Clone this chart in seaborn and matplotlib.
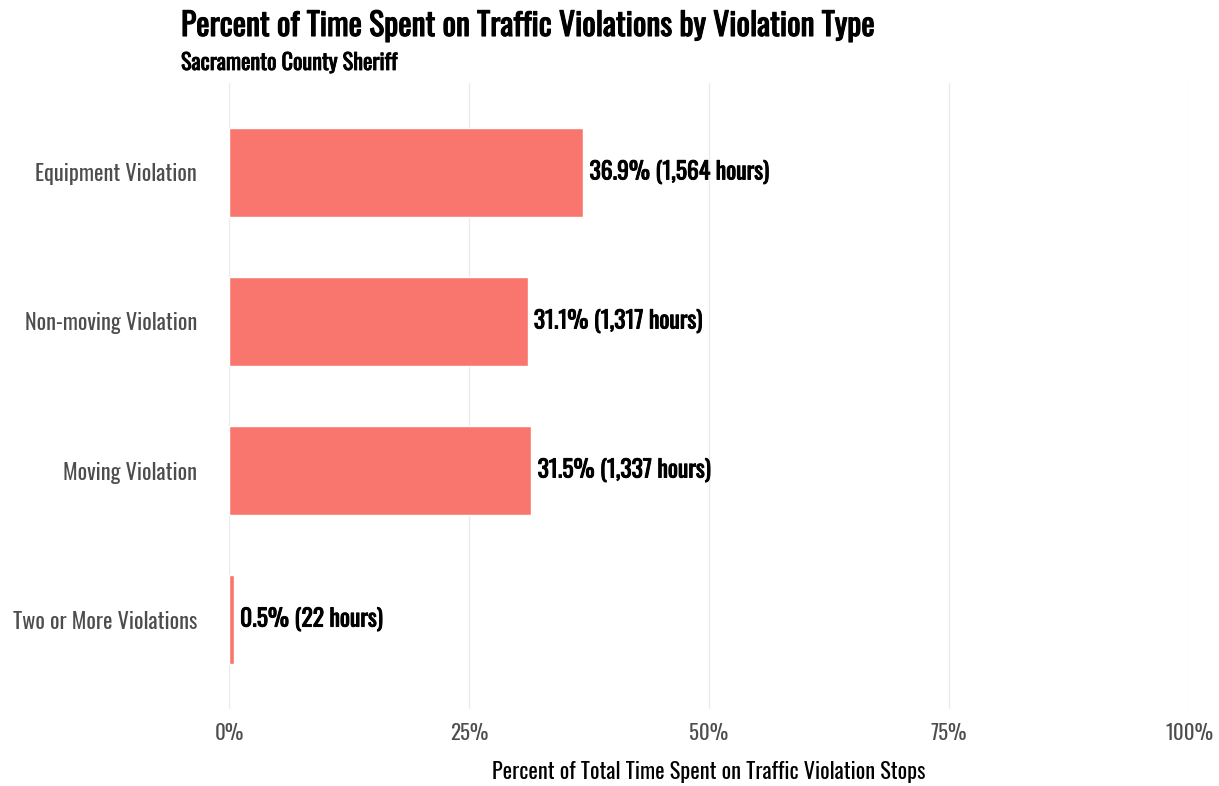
import matplotlib
matplotlib.use("Agg")
import matplotlib.pyplot as plt
import matplotlib.patheffects as pe
import seaborn as sns
import pandas as pd
from matplotlib import font_manager as fm

categories = ["Equipment Violation", "Non-moving Violation", "Moving Violation", "Two or More Violations"]
percents = [36.9, 31.1, 31.5, 0.5]
hours = [1564, 1317, 1337, 22]
xticks = [0, 25, 50, 75, 100]
xtick_labels = ["0%", "25%", "50%", "75%", "100%"]

names = {f.name for f in fm.fontManager.ttflist}
fam = "DejaVu Sans"
for cand in ["Oswald", "Roboto Condensed", "Liberation Sans Narrow"]:
    if cand in names:
        fam = cand
        break

sns.set_theme(style="whitegrid")
plt.rcParams["font.family"] = [fam, "DejaVu Sans"]
if fam == "DejaVu Sans":
    plt.rcParams["font.stretch"] = "condensed"

bold_fx = lambda w: [pe.withStroke(linewidth=w, foreground="black")]

df = pd.DataFrame({"cat": categories, "pct": percents, "hrs": hours})

fig = plt.figure(figsize=(12.19, 7.86), dpi=100)
ax = fig.add_axes([229/1219, 1-709/786, (1189-229)/1219, (709-83)/786])
sns.barplot(data=df, y="cat", x="pct", order=categories, color="#F8766D",
            saturation=1, width=0.6, ax=ax, orient="h")
ax.set_xlim(0, 100)
ax.set_ylim(3.6, -0.6)
ax.set_xticks(xticks)
ax.set_xticklabels(xtick_labels, fontsize=15, color="#4D4D4D")
ax.tick_params(axis="y", labelsize=16, labelcolor="#4D4D4D", length=0, pad=23)
ax.tick_params(axis="x", length=0, pad=10)
ax.grid(axis="y", visible=False)
ax.grid(axis="x", color="#EBEBEB", linewidth=1)
for s in ax.spines.values():
    s.set_visible(False)
ax.set_ylabel("")
ax.set_xlabel("Percent of Total Time Spent on Traffic Violation Stops", fontsize=16,
              color="black", labelpad=13)

for i, (p, h) in enumerate(zip(percents, hours)):
    ax.annotate(f"{p:.1f}% ({h:,} hours)", xy=(p, i), xytext=(4.5, 0), textcoords="offset points",
                va="center", ha="left", fontsize=17, fontweight="bold", color="black",
                path_effects=bold_fx(0.7))

fig.text(181/1219, 1-26/786, "Percent of Time Spent on Traffic Violations by Violation Type",
         fontsize=22.8, fontweight="bold", va="center", ha="left", color="black",
         path_effects=bold_fx(0.8))
fig.text(181/1219, 1-63/786, "Sacramento County Sheriff",
         fontsize=16, fontweight="bold", va="center", ha="left", color="black",
         path_effects=bold_fx(0.6))

fig.savefig("out.png", dpi=100, facecolor="white")
